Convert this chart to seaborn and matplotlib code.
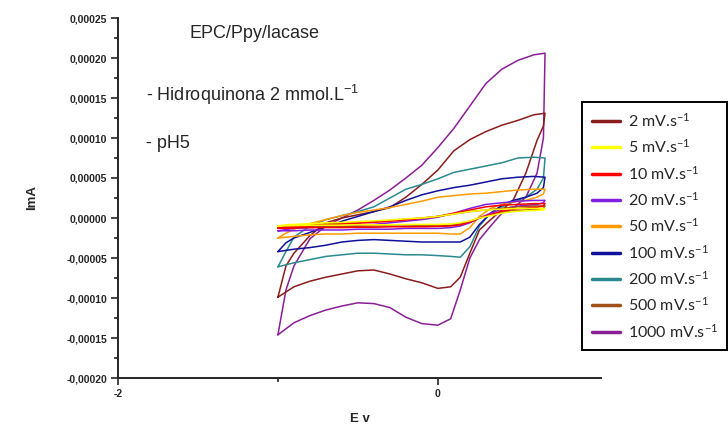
import matplotlib
matplotlib.use("Agg")
import matplotlib.pyplot as plt
from matplotlib.ticker import MultipleLocator, FuncFormatter
import seaborn as sns
import numpy as np

sns.set_style("ticks")
plt.rcParams['font.family'] = ['Liberation Sans', 'DejaVu Sans']
plt.rcParams['mathtext.default'] = 'regular'

# Shared potential grids (V): anodic (forward) and cathodic (reverse) sweeps
E_up = [-1.0, -0.95, -0.9, -0.8, -0.7, -0.6, -0.5, -0.4, -0.3, -0.2, -0.1,
        0.0, 0.1, 0.2, 0.3, 0.4, 0.5, 0.6, 0.67]
E_dn = [0.67, 0.66, 0.62, 0.55, 0.47, 0.4, 0.33, 0.26, 0.2, 0.14, 0.08, 0.0,
        -0.1, -0.2, -0.3, -0.4, -0.5, -0.6, -0.7, -0.8, -0.9, -1.0]

labels = ["2 mV.s$^{-1}$", "5 mV.s$^{-1}$", "10 mV.s$^{-1}$", "20 mV.s$^{-1}$",
          "50 mV.s$^{-1}$", "100 mV.s$^{-1}$", "200 mV.s$^{-1}$",
          "500 mV.s$^{-1}$", "1000 mV.s$^{-1}$"]
colors = ['#8B1C1C', '#FFFF00', '#FF0000', '#7F1FE0', '#FF9A00',
          '#10109A', '#2A8A8F', '#A0501A', '#8A1E96']

# currents (A)
I_up_2 = [-9.9e-5, -6.0e-5, -4.4e-5, -2.2e-5, -0.6e-5, 0.0, 0.4e-5, 0.8e-5, 1.3e-5, 2.6e-5, 4.2e-5,
          6.0e-5, 8.4e-5, 9.8e-5, 10.8e-5, 11.6e-5, 12.2e-5, 12.9e-5, 13.1e-5]
I_dn_2 = [13.1e-5, 11.5e-5, 9.7e-5, 5.6e-5, 2.2e-5, 1.0e-5, -0.2e-5, -1.5e-5, -4.4e-5, -7.4e-5, -8.6e-5, -8.8e-5,
          -8.1e-5, -7.6e-5, -7.0e-5, -6.5e-5, -6.6e-5, -7.0e-5, -7.4e-5, -7.9e-5, -8.6e-5, -9.9e-5]

I_up_5 = [-1.0e-5, -0.85e-5, -0.8e-5, -0.7e-5, -0.6e-5, -0.55e-5, -0.45e-5, -0.35e-5, -0.25e-5, -0.1e-5, 0.0,
          0.2e-5, 0.5e-5, 0.8e-5, 1.0e-5, 1.1e-5, 1.2e-5, 1.2e-5, 1.2e-5]
I_dn_5 = [1.2e-5, 1.0e-5, 0.95e-5, 0.9e-5, 0.8e-5, 0.6e-5, 0.3e-5, 0.0, -0.35e-5, -0.6e-5, -0.75e-5, -0.8e-5,
          -0.8e-5, -0.8e-5, -0.85e-5, -0.85e-5, -0.85e-5, -0.9e-5, -0.9e-5, -0.9e-5, -0.95e-5, -1.0e-5]

I_up_10 = [-1.3e-5, -1.15e-5, -1.05e-5, -0.95e-5, -0.85e-5, -0.75e-5, -0.65e-5, -0.55e-5, -0.4e-5, -0.25e-5, -0.05e-5,
           0.2e-5, 0.6e-5, 1.0e-5, 1.4e-5, 1.6e-5, 1.7e-5, 1.8e-5, 1.8e-5]
I_dn_10 = [1.8e-5, 1.5e-5, 1.35e-5, 1.25e-5, 1.1e-5, 0.85e-5, 0.45e-5, 0.0, -0.5e-5, -0.85e-5, -1.0e-5, -1.05e-5,
           -1.1e-5, -1.1e-5, -1.1e-5, -1.15e-5, -1.15e-5, -1.2e-5, -1.2e-5, -1.2e-5, -1.25e-5, -1.3e-5]

I_up_20 = [-1.6e-5, -1.45e-5, -1.3e-5, -1.2e-5, -1.1e-5, -1.0e-5, -0.9e-5, -0.8e-5, -0.6e-5, -0.4e-5, -0.2e-5,
           0.1e-5, 0.6e-5, 1.2e-5, 1.7e-5, 1.9e-5, 2.1e-5, 2.2e-5, 2.2e-5]
I_dn_20 = [2.2e-5, 1.9e-5, 1.7e-5, 1.6e-5, 1.4e-5, 1.1e-5, 0.6e-5, 0.0, -0.6e-5, -1.0e-5, -1.2e-5, -1.3e-5,
           -1.3e-5, -1.3e-5, -1.4e-5, -1.4e-5, -1.4e-5, -1.5e-5, -1.5e-5, -1.5e-5, -1.6e-5, -1.6e-5]

I_up_50 = [-2.5e-5, -1.9e-5, -1.4e-5, -0.7e-5, -0.2e-5, 0.3e-5, 0.7e-5, 1.0e-5, 1.3e-5, 1.7e-5, 2.1e-5,
           2.6e-5, 2.8e-5, 3.0e-5, 3.1e-5, 3.3e-5, 3.5e-5, 3.6e-5, 3.6e-5]
I_dn_50 = [3.6e-5, 3.0e-5, 2.6e-5, 2.2e-5, 2.0e-5, 1.7e-5, 1.2e-5, 0.2e-5, -1.2e-5, -2.0e-5, -2.0e-5, -1.9e-5,
           -1.9e-5, -1.9e-5, -1.9e-5, -1.9e-5, -1.9e-5, -2.0e-5, -2.0e-5, -2.1e-5, -2.3e-5, -2.5e-5]

I_up_100 = [-4.2e-5, -3.1e-5, -2.5e-5, -1.8e-5, -1.1e-5, -0.4e-5, 0.2e-5, 0.8e-5, 1.4e-5, 2.2e-5, 2.9e-5,
            3.4e-5, 3.8e-5, 4.1e-5, 4.5e-5, 4.9e-5, 5.1e-5, 5.2e-5, 5.1e-5]
I_dn_100 = [5.1e-5, 3.8e-5, 3.1e-5, 2.6e-5, 2.2e-5, 1.6e-5, 0.6e-5, -0.8e-5, -2.4e-5, -3.0e-5, -3.0e-5, -3.0e-5,
            -3.0e-5, -2.9e-5, -2.8e-5, -2.7e-5, -2.8e-5, -3.0e-5, -3.4e-5, -3.7e-5, -3.9e-5, -4.2e-5]

I_up_200 = [-6.1e-5, -4.2e-5, -2.4e-5, -1.0e-5, -0.2e-5, 0.3e-5, 0.8e-5, 1.4e-5, 2.5e-5, 3.6e-5, 4.2e-5,
            4.9e-5, 5.7e-5, 6.1e-5, 6.5e-5, 6.9e-5, 7.5e-5, 7.6e-5, 7.5e-5]
I_dn_200 = [7.5e-5, 5.0e-5, 3.6e-5, 2.6e-5, 2.0e-5, 1.4e-5, 0.6e-5, -1.0e-5, -3.6e-5, -4.9e-5, -4.8e-5, -4.7e-5,
            -4.6e-5, -4.6e-5, -4.5e-5, -4.4e-5, -4.4e-5, -4.6e-5, -4.8e-5, -5.2e-5, -5.6e-5, -6.1e-5]

I_up_500 = [-1.2e-5, -1.0e-5, -0.95e-5, -0.85e-5, -0.75e-5, -0.65e-5, -0.55e-5, -0.45e-5, -0.3e-5, -0.15e-5, 0.0,
            0.2e-5, 0.5e-5, 0.8e-5, 1.0e-5, 1.2e-5, 1.4e-5, 1.5e-5, 1.5e-5]
I_dn_500 = [1.5e-5, 1.2e-5, 1.1e-5, 1.0e-5, 0.9e-5, 0.7e-5, 0.35e-5, 0.0, -0.4e-5, -0.7e-5, -0.9e-5, -0.95e-5,
            -0.95e-5, -1.0e-5, -1.0e-5, -1.0e-5, -1.05e-5, -1.05e-5, -1.1e-5, -1.1e-5, -1.15e-5, -1.2e-5]

I_up_1000 = [-14.6e-5, -9.0e-5, -6.0e-5, -2.6e-5, -1.0e-5, 0.0, 1.0e-5, 2.2e-5, 3.5e-5, 5.0e-5, 6.6e-5,
             8.8e-5, 11.2e-5, 14.0e-5, 16.8e-5, 18.6e-5, 19.7e-5, 20.4e-5, 20.6e-5]
I_dn_1000 = [20.6e-5, 10.0e-5, 5.6e-5, 2.6e-5, 1.2e-5, 0.6e-5, -1.0e-5, -2.7e-5, -5.0e-5, -9.0e-5, -12.6e-5, -13.4e-5,
             -13.2e-5, -12.4e-5, -11.2e-5, -10.7e-5, -10.6e-5, -11.0e-5, -11.5e-5, -12.2e-5, -13.1e-5, -14.6e-5]

series = [
    (I_up_2, I_dn_2), (I_up_5, I_dn_5), (I_up_10, I_dn_10), (I_up_20, I_dn_20),
    (I_up_50, I_dn_50), (I_up_100, I_dn_100), (I_up_200, I_dn_200),
    (I_up_500, I_dn_500), (I_up_1000, I_dn_1000),
]

fig = plt.figure(figsize=(7.28, 4.28), dpi=100)
ax = fig.add_axes([118 / 728, 50 / 428, 483 / 728, 360 / 428])

# draw large loops first, small ones on top
draw_order = [8, 0, 6, 5, 4, 3, 7, 2, 1]
for k in draw_order:
    up, dn = series[k]
    E_path = list(E_up) + list(E_dn)
    I_path = list(up) + list(dn)
    sns.lineplot(x=E_path, y=I_path, sort=False, estimator=None, color=colors[k],
                 lw=1.1, label=labels[k], ax=ax, zorder=3)

ax.set_xlim(-2, 1.02)
ax.set_ylim(-0.0002, 0.00025)
sns.despine(ax=ax)
for s in ['left', 'bottom']:
    ax.spines[s].set_linewidth(1.4)

ax.set_xticks([-2, 0])
ax.set_xticks([-1], minor=True)
ax.xaxis.set_major_formatter(FuncFormatter(lambda v, p: f"{v:.0f}"))
ax.yaxis.set_major_locator(MultipleLocator(5e-5))
ax.yaxis.set_minor_locator(MultipleLocator(2.5e-5))
ax.yaxis.set_major_formatter(FuncFormatter(lambda v, p: f"{v:.5f}".replace('.', ',').replace('-0,00000', '0,00000')))
ax.tick_params(which='major', direction='out', length=5, width=1.2, labelsize=7.5, pad=3)
ax.tick_params(which='minor', direction='out', length=3, width=1.2)
for t in ax.get_xticklabels() + ax.get_yticklabels():
    t.set_fontweight('bold')

ax.set_xlabel("E v", fontsize=9.5, fontweight='bold', labelpad=10)
ax.set_ylabel("ImA", fontsize=9.5, fontweight='bold', labelpad=20)

fig.text(189 / 728, 1 - 33 / 428, "EPC/Ppy/lacase", fontsize=13, va='center', ha='left')
fig.text(146 / 728, 1 - 95 / 428, "- Hidroquinona 2 mmol.L$^{-1}$", fontsize=13, va='center', ha='left')
fig.text(146 / 728, 1 - 143 / 428, "- pH5", fontsize=13, va='center', ha='left')

handles, labs = ax.get_legend_handles_labels()
order = [labs.index(l) for l in labels]
leg = ax.legend([handles[i] for i in order], [labs[i] for i in order],
                loc='upper left', bbox_to_anchor=(582 / 728, 1 - 102 / 428),
                bbox_transform=fig.transFigure, borderaxespad=0, frameon=True, fancybox=False,
                edgecolor='black', framealpha=1, prop={'family': ['Lato', 'DejaVu Sans'], 'size': 11.5},
                handlelength=1.75, handletextpad=0.5, labelspacing=0.53, borderpad=0.6)
leg.get_frame().set_linewidth(1.4)
for h in leg.get_lines():
    h.set_linewidth(2.5)

fig.savefig("out.png", dpi=100)
